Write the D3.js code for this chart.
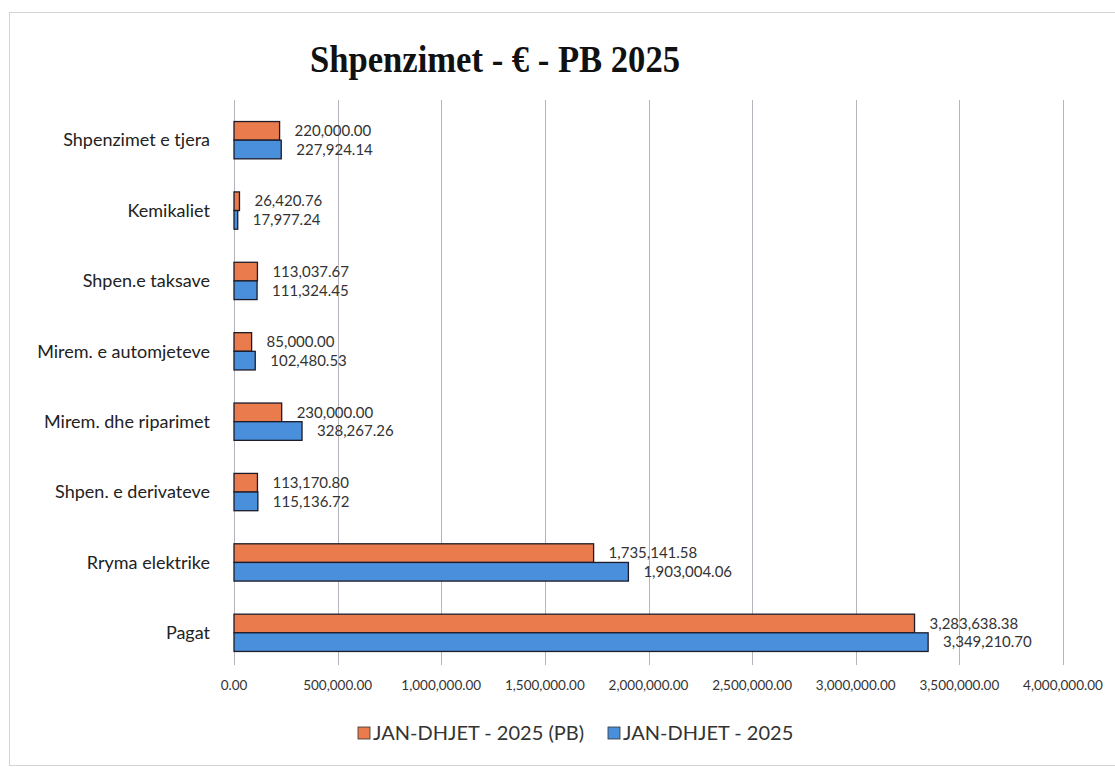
<!DOCTYPE html>
<html>
<head>
<meta charset="utf-8">
<script src="https://cdn.jsdelivr.net/npm/d3@7/dist/d3.min.js"></script>
<style>
body{ margin:0; background:#fff; }
svg{ display:block; font-family: Lato, "Noto Sans", sans-serif; }
</style>
</head>
<body>
<div id="chart"></div>
<script>
// data ----------------------------------------------------
var categories = ["Shpenzimet e tjera", "Kemikaliet", "Shpen.e taksave", "Mirem. e automjeteve",
  "Mirem. dhe riparimet", "Shpen. e derivateve", "Rryma elektrike", "Pagat"];
var planValues = [220000.00, 26420.76, 113037.67, 85000.00, 230000.00, 113170.80, 1735141.58, 3283638.38];
var actualValues = [227924.14, 17977.24, 111324.45, 102480.53, 328267.26, 115136.72, 1903004.06, 3349210.70];
var seriesNames = ["JAN-DHJET - 2025 (PB)", "JAN-DHJET - 2025"];
var tickValues = [0, 500000, 1000000, 1500000, 2000000, 2500000, 3000000, 3500000, 4000000];
var colors = ["#E97B4C", "#4A8FDB"];

// layout
var W = 1115, H = 767;
var margin = {top: 105, left: 234, right: 52, bottom: 99};

var svg = d3.select("#chart").append("svg")
  .attr("width", W).attr("height", H);

// chart frame
svg.append("rect")
  .attr("x", 9.5).attr("y", 12.5)
  .attr("width", W + 10).attr("height", H - 14)
  .attr("fill", "none").attr("stroke", "#d4d4d4");

// title (condensed serif)
svg.append("text")
  .attr("x", 310).attr("y", 72)
  .attr("textLength", 370).attr("lengthAdjust", "spacingAndGlyphs")
  .style("font-family", "'Liberation Serif', 'DejaVu Serif', serif")
  .style("font-weight", "bold")
  .style("font-size", "37px")
  .attr("fill", "#111")
  .text("Shpenzimet - €  - PB 2025");

var x = d3.scaleLinear().domain([0, 4000000]).range([margin.left, W - margin.right]);
var y = d3.scaleBand().domain(categories).range([margin.top, H - margin.bottom]).paddingInner(0.47).paddingOuter(0.235);
var y1 = d3.scaleBand().domain([0, 1]).range([0, y.bandwidth()]);

// grid lines
svg.append("g").selectAll("line").data(tickValues).join("line")
  .attr("x1", d => Math.round(x(d)) + 0.5).attr("x2", d => Math.round(x(d)) + 0.5)
  .attr("y1", 100).attr("y2", 665)
  .attr("stroke", "#b4b4bc").attr("stroke-width", 1);

// tick labels
var fmt = d3.format(",.2f");
svg.append("g").selectAll("text").data(tickValues).join("text")
  .attr("x", d => x(d)).attr("y", 690)
  .attr("text-anchor", "middle")
  .style("font-size", "13.5px")
  .attr("fill", "#333")
  .text(d => fmt(d));

// category labels
svg.append("g").selectAll("text").data(categories).join("text")
  .attr("x", 210).attr("y", d => y(d) + y.bandwidth() / 2)
  .attr("dy", "0.35em")
  .attr("text-anchor", "end")
  .style("font-size", "18px")
  .attr("fill", "#222")
  .text(d => d);

// bars + value labels
var series = [planValues, actualValues];
series.forEach(function(vals, s){
  var g = svg.append("g");
  g.selectAll("rect").data(vals).join("rect")
    .attr("x", x(0))
    .attr("y", (d, i) => y(categories[i]) + y1(s))
    .attr("width", d => x(d) - x(0))
    .attr("height", y1.bandwidth())
    .attr("fill", colors[s])
    .attr("stroke", "#1c1c2a").attr("stroke-width", 1.3);
  g.selectAll("text").data(vals).join("text")
    .attr("x", d => x(d) + 15)
    .attr("y", (d, i) => y(categories[i]) + y1(s) + y1.bandwidth() / 2)
    .attr("dy", "0.35em")
    .style("font-size", "15px")
    .attr("fill", "#333")
    .text(d => fmt(d));
});

// legend
var legendX = [358, 608];
seriesNames.forEach(function(name, s){
  svg.append("rect")
    .attr("x", legendX[s]).attr("y", 727)
    .attr("width", 12).attr("height", 12)
    .attr("fill", colors[s]).attr("stroke", "#333").attr("stroke-width", 0.8);
  svg.append("text")
    .attr("x", legendX[s] + 15).attr("y", 733)
    .attr("dy", "0.35em")
    .style("font-size", "20px")
    .attr("fill", "#333")
    .text(name);
});
</script>
</body>
</html>
